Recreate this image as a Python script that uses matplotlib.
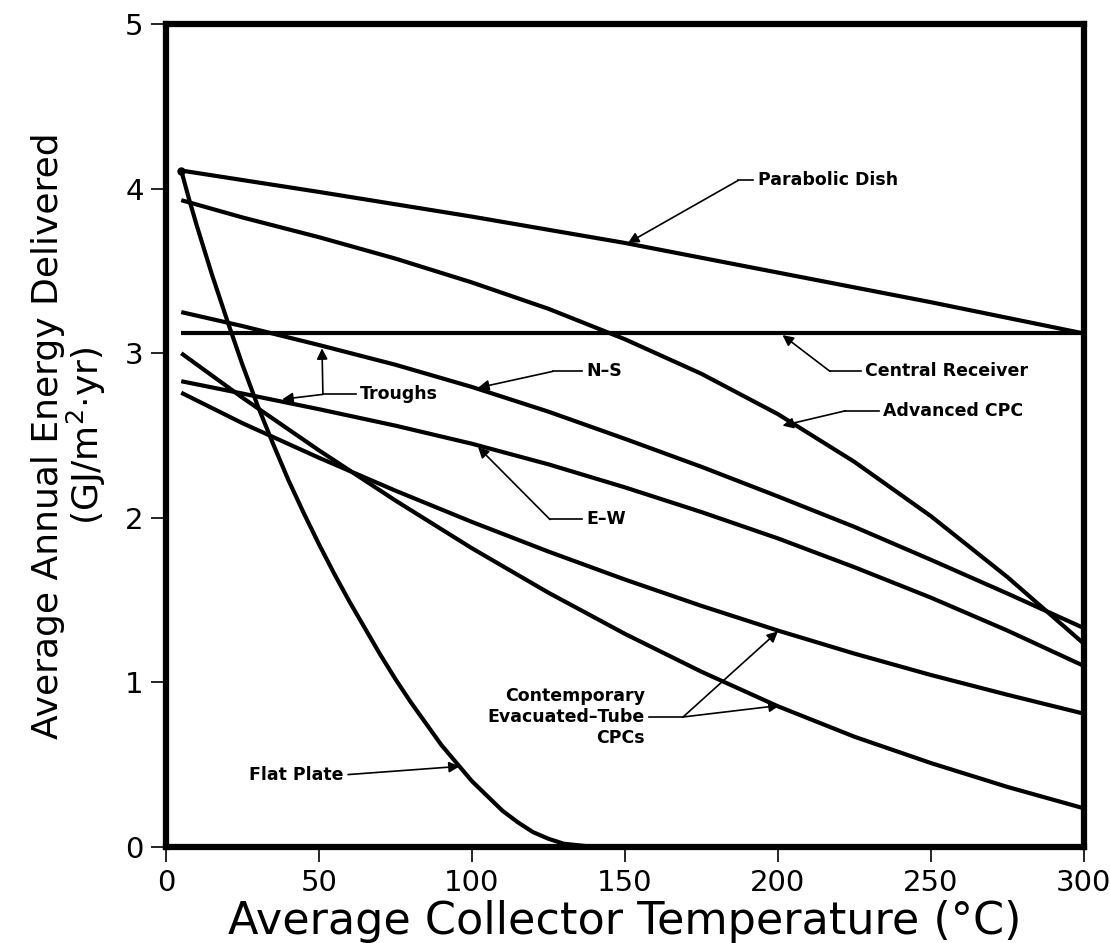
import numpy as np
import matplotlib.pyplot as plt

# values (temperature in deg C, energy in GJ/m2.yr)
t_grid = [5, 25, 50, 75, 100, 125, 150, 175, 200, 225, 250, 275, 300]

t_dish = [5, 50, 100, 150, 200, 250, 300]
e_dish = [4.11, 3.98, 3.83, 3.67, 3.49, 3.31, 3.12]

t_recv = [5, 300]
e_recv = [3.12, 3.12]

e_adv = [3.93, 3.825, 3.705, 3.575, 3.43, 3.27, 3.085, 2.875, 2.63, 2.34, 2.01, 1.64, 1.235]
e_ns = [3.25, 3.165, 3.05, 2.93, 2.795, 2.645, 2.48, 2.31, 2.13, 1.945, 1.745, 1.54, 1.33]
e_ew = [2.83, 2.755, 2.66, 2.56, 2.45, 2.325, 2.185, 2.035, 1.875, 1.70, 1.515, 1.315, 1.10]
e_cpc1 = [2.76, 2.575, 2.365, 2.165, 1.975, 1.795, 1.625, 1.465, 1.315, 1.175, 1.045, 0.925, 0.81]
e_cpc2 = [3.00, 2.73, 2.41, 2.105, 1.815, 1.545, 1.295, 1.065, 0.855, 0.67, 0.51, 0.365, 0.235]

t_flat = [5, 7.5, 10, 15, 20, 25, 30, 35, 40, 45, 50, 55, 60, 65, 70, 75, 80,
          85, 90, 95, 100, 105, 110, 115, 120, 125, 130, 135, 140, 147]
e_flat = [4.11, 3.94, 3.78, 3.48, 3.20, 2.93, 2.68, 2.45, 2.23, 2.03, 1.84,
          1.66, 1.49, 1.33, 1.17, 1.02, 0.88, 0.75, 0.62, 0.51, 0.40, 0.31,
          0.22, 0.15, 0.09, 0.05, 0.02, 0.01, 0.0, 0.0]

x_ticks = [0, 50, 100, 150, 200, 250, 300]
y_ticks = [0, 1, 2, 3, 4, 5]

plt.rcParams['font.family'] = ['DejaVu Sans']

fig = plt.figure(figsize=(11.1, 9.43), dpi=100)
ax = fig.add_axes([0.1495, 0.1018, 0.827, 0.8727])

curve_lw = 3.0
for t, e in [(t_dish, e_dish), (t_recv, e_recv), (t_grid, e_adv), (t_grid, e_ns),
             (t_grid, e_ew), (t_grid, e_cpc1), (t_grid, e_cpc2), (t_flat, e_flat)]:
    ax.plot(t, e, color='black', lw=curve_lw, solid_capstyle='butt',
            solid_joinstyle='round', clip_on=False)
ax.plot([5], [4.11], 'o', color='black', ms=5)

ax.set_xlim(0, 300)
ax.set_ylim(0, 5)
ax.set_xticks(x_ticks)
ax.set_yticks(y_ticks)
ax.tick_params(direction='out', length=11, width=1.2, labelsize=21, pad=5)
for s in ax.spines.values():
    s.set_linewidth(4.5)

ax.set_xlabel('Average Collector Temperature (\u00b0C)', fontsize=32, labelpad=2)
ax.set_ylabel('Average Annual Energy Delivered\n(GJ/m$^2$\u00b7yr)', fontsize=26,
              labelpad=12, linespacing=1.0)

arrow = dict(arrowstyle='-|>', color='black', lw=1.2, mutation_scale=16,
             shrinkA=0, shrinkB=0)
lab = dict(fontsize=12.5, fontweight='bold', va='center')


def leader(text_xy, elbow, tips, text, ha='left'):
    ax.plot([elbow[0], text_xy[0]], [elbow[1], text_xy[1]], color='black', lw=1.2)
    for tip in tips:
        ax.annotate('', xy=tip, xytext=elbow, arrowprops=arrow)
    ax.text(text_xy[0] + (1.5 if ha == 'left' else -1.5), text_xy[1], text, ha=ha, **lab)


leader((192, 4.05), (187, 4.05), [(151, 3.67)], 'Parabolic Dish')
leader((227, 2.89), (217, 2.89), [(201.5, 3.11)], 'Central Receiver')
leader((233, 2.65), (222, 2.65), [(201.5, 2.56)], 'Advanced CPC')
leader((136, 2.89), (126.5, 2.89), [(102, 2.79)], 'N\u2013S')
leader((136, 1.99), (125.5, 1.99), [(102, 2.43)], 'E\u2013W')
leader((62, 2.75), (51.3, 2.75), [(51, 3.03), (38, 2.72)], 'Troughs')
leader((158, 0.79), (169, 0.79), [(200, 1.31), (200.6, 0.86)],
       'Contemporary\nEvacuated\u2013Tube\nCPCs', ha='right')
ax.annotate('', xy=(96, 0.49), xytext=(59.5, 0.44), arrowprops=arrow)
ax.text(58, 0.44, 'Flat Plate', ha='right', **lab)

fig.savefig('out.png', dpi=100)
